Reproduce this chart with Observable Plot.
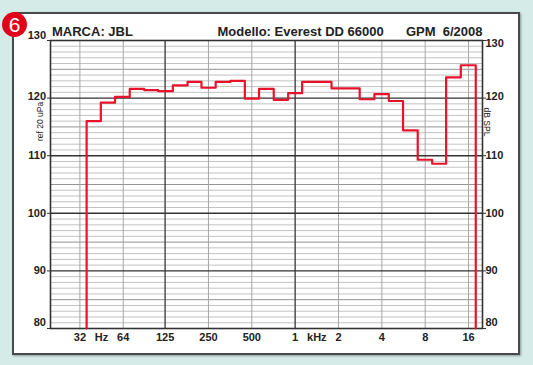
<!DOCTYPE html>
<html><head><meta charset="utf-8">
<script src="https://cdn.jsdelivr.net/npm/d3@7"></script>
<script src="https://cdn.jsdelivr.net/npm/@observablehq/plot@0.6"></script>
<style>
html,body{margin:0;padding:0;}
body{width:533px;height:365px;background:#d4ebe7;position:relative;overflow:hidden;font-family:"Liberation Sans",Arial,sans-serif;}
#panel{position:absolute;left:12px;top:12px;width:508px;height:343px;box-sizing:border-box;background:#fff;border:2px solid #4a4a4a;box-shadow:1px 1px 2px rgba(0,0,0,.35);}
#chart{position:absolute;left:0;top:0;}
#badge{position:absolute;left:2px;top:12px;width:25px;height:25px;border-radius:50%;background:#e2001a;color:#fff;font:21px/25px "Liberation Sans",Arial,sans-serif;text-align:center;}
svg{white-space:pre;}
</style></head>
<body>
<div id="panel"></div>
<div id="chart"></div>
<div id="badge">6</div>
<script>
// 1/3-octave band centres (Hz) and measured level (dB SPL)
const bandCenters = [40,50,63,80,100,125,160,200,250,315,400,500,630,800,1000,1250,1600,2000,2500,3150,4000,5000,6300,8000,10000,12500,16000];
const levels      = [116.0,119.2,120.2,121.6,121.4,121.2,122.2,122.8,121.8,122.8,123.0,119.9,121.6,119.7,120.85,122.8,122.8,121.7,121.7,119.8,120.7,119.5,114.4,109.3,108.6,123.6,125.7];
const xTicks      = [32,64,125,250,500,1000,2000,4000,8000,16000];
const xTickLabels = ["32","64","125","250","500","1","2","4","8","16"];
const yTicks      = [80,90,100,110,120,130];
const unitLabels  = ["Hz","kHz"];
const titleLeft   = "MARCA: JBL";
const titleMid    = "Modello: Everest DD 66000";
const titleRight  = "GPM  6/2008";

// step outline of the bands
const edges = bandCenters.map((c,i) => i === 0 ? c / Math.pow(2,1/6) : Math.sqrt(bandCenters[i-1]*c));
const lastUpper = bandCenters[bandCenters.length-1] * Math.pow(2,1/6);
const pts = [{f: edges[0], v: 80}];
bandCenters.forEach((c,i) => {
  const hi = i < bandCenters.length-1 ? Math.sqrt(c*bandCenters[i+1]) : lastUpper;
  pts.push({f: edges[i], v: levels[i]});
  pts.push({f: hi, v: levels[i]});
});
pts.push({f: lastUpper, v: 80});

const allDb = d3.range(80,131);
const minorDb = allDb.filter(d => d % 5 !== 0);
const fiveDb = allDb.filter(d => d % 5 === 0 && d % 10 !== 0);
const tenDb = allDb.filter(d => d % 10 === 0 && d > 80 && d < 130);
const darkX = xTicks.filter(f => f === 125 || f === 1000);
const lightX = xTicks.filter(f => !(f === 125 || f === 1000));

const font = {fontFamily: "'Liberation Sans', Arial, sans-serif", fill: "#222"};
const lab = (vals, anchor, dy) => Plot.text(vals, {
  y: d => d, text: d => String(d), frameAnchor: anchor,
  textAnchor: anchor === "left" ? "end" : "start", dx: anchor === "left" ? -4.5 : 3,
  dy, fontSize: 11, fontWeight: "bold", ...font
});

const chart = Plot.plot({
  width: 533, height: 365,
  marginLeft: 50, marginRight: 51, marginTop: 40, marginBottom: 37,
  style: {background: "transparent", overflow: "visible"},
  x: {type: "log", domain: [20, 20000], axis: null},
  y: {domain: [80, 130], axis: null},
  marks: [
    Plot.ruleY(minorDb, {stroke: "#c2c2c2", strokeWidth: 1}),
    Plot.ruleY(fiveDb, {stroke: "#939393", strokeWidth: 1}),
    Plot.ruleX(lightX, {stroke: "#a6a6a6", strokeWidth: 1}),
    Plot.ruleX(darkX, {stroke: "#444", strokeWidth: 1.4}),
    Plot.ruleY(tenDb, {stroke: "#333", strokeWidth: 1.4}),
    Plot.frame({stroke: "#333", strokeWidth: 1.6}),
    Plot.axisY({anchor: "left", ticks: yTicks, tickSize: 3, tickFormat: () => "", label: null, stroke: "#333"}),
    Plot.axisY({anchor: "right", ticks: yTicks, tickSize: 3, tickFormat: () => "", label: null, stroke: "#333"}),
    Plot.line(pts, {x: "f", y: "v", stroke: "#e8132b", strokeWidth: 2.2}),
    lab([130], "left", -5.5), lab([120], "left", -1.5), lab([90,100,110], "left", 0), lab([80], "left", -6),
    lab([130], "right", 2.5), lab([120], "right", -1.5), lab([90,100,110], "right", 0), lab([80], "right", -6),
    Plot.text(xTicks, {x: d => d, text: (d,i) => xTickLabels[i], frameAnchor: "bottom", lineAnchor: "top", dy: 5, fontSize: 11, fontWeight: "bold", ...font}),
    Plot.text(unitLabels, {x: (d,i) => i === 0 ? Math.sqrt(xTicks[0]*xTicks[1]) : Math.sqrt(xTicks[5]*xTicks[6]), text: d => d, frameAnchor: "bottom", lineAnchor: "top", dy: 5, fontSize: 11, fontWeight: "bold", ...font}),
    Plot.text([titleLeft], {frameAnchor: "top-left", textAnchor: "start", lineAnchor: "bottom", dx: 1.5, dy: -4.5, fontSize: 13, fontWeight: "bold", ...font}),
    Plot.text([titleMid], {frameAnchor: "top-left", textAnchor: "start", lineAnchor: "bottom", dx: 167, dy: -4.5, fontSize: 13, fontWeight: "bold", ...font}),
    Plot.text([titleRight], {frameAnchor: "top-right", textAnchor: "end", lineAnchor: "bottom", dx: 0, dy: -4.5, fontSize: 13, fontWeight: "bold", ...font}),
    Plot.text(["ref 20 uPa"], {frameAnchor: "top-left", textAnchor: "middle", rotate: -90, dx: -14, dy: 81, fontSize: 8.5, ...font}),
    Plot.text(["dB SPL"], {frameAnchor: "top-right", textAnchor: "middle", rotate: 90, dx: 7.5, dy: 81.5, fontSize: 8.5, ...font})
  ]
});
document.getElementById("chart").appendChild(chart);
</script>
</body></html>
